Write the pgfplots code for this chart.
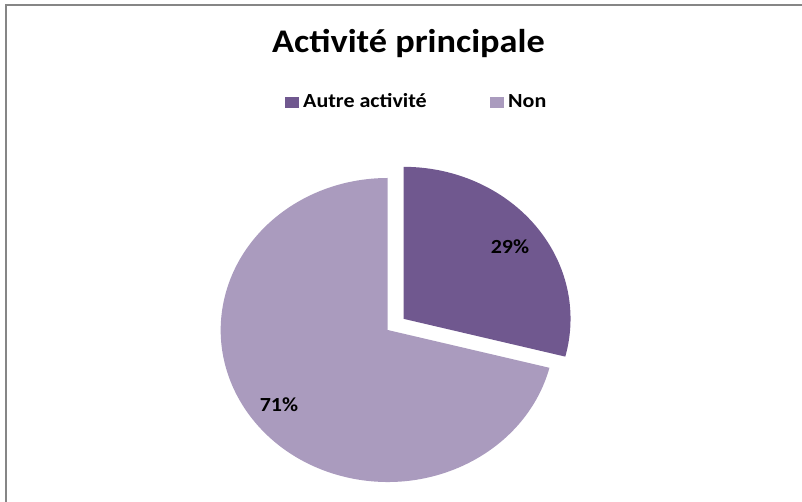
\documentclass[border=0pt]{standalone}
\usepackage{pgfplots}
\pgfplotsset{compat=1.18}
\usepackage{fontspec}
\setmainfont{Carlito}[FakeStretch=1.1]
\usepackage{xcolor}

\definecolor{autre}{RGB}{112,88,143}
\definecolor{non}{RGB}{170,155,190}
\definecolor{frame}{RGB}{134,134,134}

% shares of the two answers (percent)
\def\valAutre{29}
\def\valNon{71}

\begin{document}
\begin{tikzpicture}[x=1pt,y=1pt]
  \useasboundingbox (0,0) rectangle (802,502);
  \begin{axis}[at={(0,0)}, anchor=south west, scale only axis,
    width=802pt, height=502pt, xmin=0, xmax=802, ymin=0, ymax=502,
    hide axis, clip=false]
    % pie centre and radii (the chart is stretched horizontally)
    \pgfmathsetmacro{\cx}{387.7}
    \pgfmathsetmacro{\cy}{172}
    \pgfmathsetmacro{\rx}{167}
    \pgfmathsetmacro{\ry}{152}
    \pgfmathsetmacro{\aEnd}{90-\valAutre*3.6}
    \pgfmathsetmacro{\bEnd}{\aEnd-\valNon*3.6}
    \pgfmathsetmacro{\mid}{(90+\aEnd)/2}
    \pgfmathsetmacro{\ox}{0.12*\rx*cos(\mid)}
    \pgfmathsetmacro{\oy}{0.12*\ry*sin(\mid)}
    % Non (71 %)
    \fill[non] (axis cs:\cx,\cy) -- ++(axis direction cs:{\rx*cos(\aEnd)},{\ry*sin(\aEnd)})
      arc[start angle=\aEnd, end angle=\bEnd, x radius=\rx, y radius=\ry] -- cycle;
    % Autre activite (29 %), pulled out
    \fill[autre] (axis cs:\cx+\ox,\cy+\oy) -- ++(axis direction cs:0,\ry)
      arc[start angle=90, end angle=\aEnd, x radius=\rx, y radius=\ry] -- cycle;
    % data labels
    \node[font=\fontsize{20}{24}\selectfont\bfseries] at (axis cs:510,255) {\valAutre\%};
    \node[font=\fontsize{20}{24}\selectfont\bfseries] at (axis cs:279,97) {\valNon\%};
    % title
    \node[anchor=base, font=\fontsize{33}{40}\selectfont\bfseries] at (axis cs:408.5,449) {Activité principale};
    % legend
    \fill[autre] (axis cs:285,394) rectangle (axis cs:299,405);
    \node[anchor=base west, inner sep=0pt, font=\fontsize{20}{24}\selectfont\bfseries] at (axis cs:303,394) {Autre activité};
    \fill[non] (axis cs:490,394) rectangle (axis cs:504,405);
    \node[anchor=base west, inner sep=0pt, font=\fontsize{20}{24}\selectfont\bfseries] at (axis cs:508,394) {Non};
  \end{axis}
  % chart area border (only left and top edges are inside the picture)
  \draw[frame, line width=2pt] (6,-10) -- (6,497) -- (820,497);
\end{tikzpicture}
\end{document}
